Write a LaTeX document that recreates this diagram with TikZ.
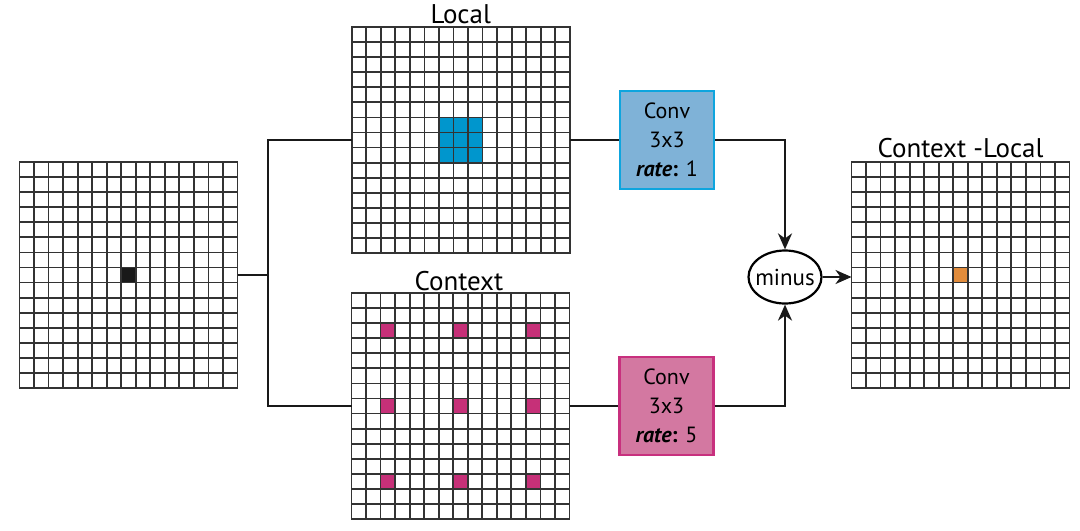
\documentclass[tikz,border=0pt]{standalone}
\usepackage{fontspec}
\setmainfont{PT Sans}
\usepackage{tikz}
\usetikzlibrary{calc}
\usetikzlibrary{arrows.meta}
\usetikzlibrary{shapes.geometric}
\usetikzlibrary{positioning}
\definecolor{lfill}{RGB}{127,178,215}
\definecolor{lborder}{RGB}{14,165,222}
\definecolor{cfill}{RGB}{211,120,161}
\definecolor{cborder}{RGB}{200,48,126}
\definecolor{lcell}{RGB}{0,150,205}
\definecolor{ccell}{RGB}{198,48,120}
\definecolor{rcell}{RGB}{225,140,60}
\tikzset{gridbox/.style={rectangle,draw=black!85,fill=white,line width=0.9pt,minimum width=109pt,minimum height=113pt,inner sep=0pt,outer sep=0pt}}
\tikzset{gridline/.style={draw=black!80,line width=0.9pt}}
\tikzset{title/.style={font=\fontsize{13.5}{16}\selectfont,inner sep=0pt,anchor=base}}
\tikzset{conv/.style={rectangle,line width=1.2pt,minimum width=47pt,minimum height=49pt,inner sep=0pt,align=center,font=\fontsize{11}{14.5}\selectfont}}
\tikzset{convl/.style={conv,draw=lborder,fill=lfill}}
\tikzset{convc/.style={conv,draw=cborder,fill=cfill}}
\tikzset{op/.style={ellipse,draw=black,line width=1.1pt,minimum width=36.5pt,minimum height=26.5pt,inner xsep=-2.2pt,inner ysep=0pt,font=\fontsize{11.5}{13}\selectfont}}
\tikzset{wire/.style={line width=1.1pt,black!90}}
\tikzset{flow/.style={wire,-{Stealth[length=8pt,width=7pt,inset=2.5pt]}}}

\begin{document}
\begin{tikzpicture}[x=0.5pt,y=-0.5pt]
\useasboundingbox (0,0) rectangle (1080,530);
\def\cellw{14.533}
\def\cellh{15.067}

% the four feature maps
\node[gridbox] (input) at (128.5,275) {};
\node[gridbox] (local) at (460.75,140) {};
\node[gridbox] (context) at (460.5,406) {};
\node[gridbox] (result) at (960.5,275) {};

% coloured cells
\fill[black!90] ($(input.north west)+(7*\cellw,7*\cellh)$) rectangle +(\cellw,\cellh);
\foreach \c in {6,7,8}
    \foreach \r in {6,7,8} {
    \fill[lcell] ($(local.north west)+(\c*\cellw,\r*\cellh)$) rectangle +(\cellw,\cellh);
    }
\foreach \c in {2,7,12}
    \foreach \r in {2,7,12} {
    \fill[ccell] ($(context.north west)+(\c*\cellw,\r*\cellh)$) rectangle +(\cellw,\cellh);
    }
\fill[rcell] ($(result.north west)+(7*\cellw,7*\cellh)$) rectangle +(\cellw,\cellh);

% grid lines
\foreach \g in {input,local,context,result} {
    \foreach \k in {1,...,14} {
    \draw[gridline] ($(\g.north west)!{\k/15}!(\g.north east)$) -- ($(\g.south west)!{\k/15}!(\g.south east)$);
    \draw[gridline] ($(\g.north west)!{\k/15}!(\g.south west)$) -- ($(\g.north east)!{\k/15}!(\g.south east)$);
    }
    \draw[gridline] (\g.north west) rectangle (\g.south east);
}

\node[title] (localtitle) at ([yshift=1.7pt]local.north) {Local};
\node[title] (contexttitle) at ([xshift=-0.8pt,yshift=1.2pt]context.north) {Context};
\node[title] (resulttitle) at ([yshift=2.5pt]result.north) {Context -Local};

% convolutions
\node[convl] (convlocal) at (667,140) {Conv\\3x3\\\textbf{\textit{rate}:} 1};
\node[convc] (convcontext) at (666.5,406) {Conv\\3x3\\\textbf{\textit{rate}:} 5};
\node[op] (minus) at (785,277) {minus};

% connectors
\coordinate (split) at (268,275);
\draw[wire] (input.east) -- (split);
\draw[wire] (local.west) -| (split) |- (context.west);
\draw[wire] (local.east) -- (convlocal);
\draw[wire] (context.east) -- (convcontext);
\draw[flow] (convlocal.east) -| (minus.north);
\draw[flow] (convcontext.east) -| (minus.south);
\draw[flow] (minus.east) -- (minus.east -| result.west);
\end{tikzpicture}
\end{document}
